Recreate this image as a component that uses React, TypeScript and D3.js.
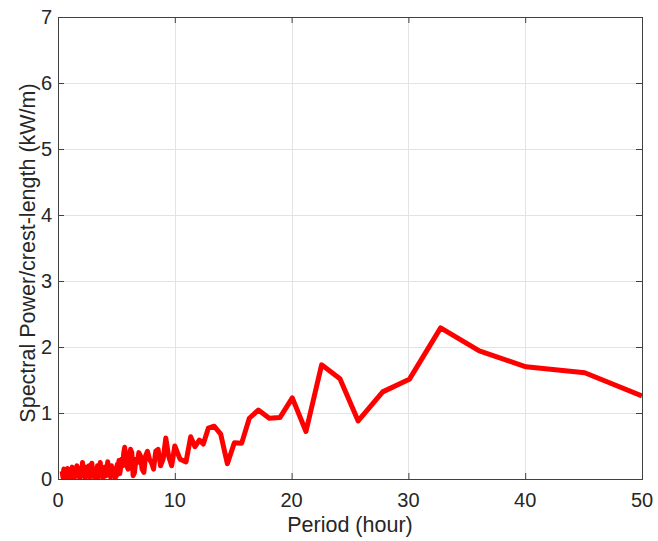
import React from "react";
import * as d3 from "d3";

// period (hour) and spectral power (kW/m)
const periods = [
  0.35, 0.42, 0.5, 0.58, 0.66, 0.74, 0.82, 0.9, 0.98, 1.06, 1.14, 1.22, 1.3, 1.38, 1.46, 1.54,
  1.62, 1.7, 1.78, 1.86, 1.94, 2.02, 2.1, 2.18, 2.26, 2.34, 2.42, 2.5, 2.58, 2.66, 2.74, 2.82,
  2.9, 2.98, 3.06, 3.14, 3.22, 3.3, 3.38, 3.46, 3.54, 3.62, 3.7, 3.78, 3.86, 3.94, 4.02, 4.1,
  4.18, 4.26, 4.34, 4.42, 4.5, 4.58, 4.66, 4.74, 4.82, 4.9, 5.0, 5.07, 5.14, 5.22, 5.29, 5.37,
  5.45, 5.54, 5.63, 5.71, 5.81, 5.9, 6.0, 6.1, 6.21, 6.32, 6.43, 6.55, 6.67, 6.79, 6.92, 7.06,
  7.2, 7.35, 7.5, 7.66, 7.83, 8.0, 8.18, 8.37, 8.57, 8.78, 9.0, 9.23, 9.47, 9.73,
  10.0, 10.45, 10.96, 11.36, 11.73, 12.1, 12.44, 12.87, 13.38, 13.93,
  14.5, 15.1, 15.72, 16.38, 17.15, 18.09, 19.0, 20.06, 21.23, 22.57,
  24.14, 25.7, 27.8, 30.08, 32.76, 36.07, 40.07, 45.1, 50.0,
];
const power = [
  0.12, 0.03, 0.15, 0.02, 0.1, 0.04, 0.16, 0.01, 0.08, 0.14, 0.03, 0.18, 0.06, 0.02, 0.12, 0.04,
  0.2, 0.05, 0.1, 0.02, 0.16, 0.08, 0.25, 0.04, 0.12, 0.02, 0.18, 0.1, 0.05, 0.2, 0.03, 0.14,
  0.24, 0.06, 0.12, 0.02, 0.15, 0.08, 0.2, 0.03, 0.1, 0.25, 0.06, 0.14, 0.02, 0.1, 0.18, 0.05,
  0.12, 0.26, 0.08, 0.15, 0.03, 0.2, 0.1, 0.05, 0.16, 0.02, 0.05, 0.22, 0.12, 0.28, 0.08, 0.18,
  0.3, 0.2, 0.4, 0.48, 0.35, 0.2, 0.15, 0.3, 0.45, 0.4, 0.05, 0.1, 0.3, 0.25, 0.4, 0.35,
  0.15, 0.1, 0.35, 0.42, 0.3, 0.25, 0.15, 0.42, 0.45, 0.2, 0.3, 0.62, 0.35, 0.2,
  0.5, 0.3, 0.26, 0.64, 0.49, 0.59, 0.53, 0.77, 0.8, 0.68,
  0.23, 0.55, 0.54, 0.92, 1.045, 0.92, 0.93, 1.23, 0.72, 1.73,
  1.52, 0.88, 1.32, 1.51, 2.29, 1.94, 1.7, 1.61, 1.26,
];
const xTicks = [0, 10, 20, 30, 40, 50];
const yTicks = [0, 1, 2, 3, 4, 5, 6, 7];

export default function App() {
  const width = 658;
  const height = 541;
  const margin = { top: 17, right: 16, bottom: 62, left: 58 };
  const innerW = width - margin.left - margin.right;
  const innerH = height - margin.top - margin.bottom;

  const x = d3.scaleLinear().domain([0, 50]).range([0, innerW]);
  const y = d3.scaleLinear().domain([0, 7]).range([innerH, 0]);

  const line = d3
    .line<number>()
    .x((d, i) => x(periods[i]))
    .y((d) => y(d));

  const font = "'Liberation Sans', Arial, Helvetica, sans-serif";
  const axisColor = "#404040";
  const textColor = "#262626";

  return (
    <svg
      width={width}
      height={height}
      style={{ position: "absolute", left: 0, top: 0, background: "#fff" }}
    >
      <defs>
        <clipPath id="plotClip">
          <rect x={0} y={0} width={innerW} height={innerH} />
        </clipPath>
      </defs>
      <g transform={`translate(${margin.left},${margin.top})`}>
        {/* grid */}
        {xTicks.slice(1, -1).map((t) => (
          <line key={"gx" + t} x1={Math.round(x(t)) + 0.5} x2={Math.round(x(t)) + 0.5} y1={0} y2={innerH} stroke="#e3e3e3" />
        ))}
        {yTicks.slice(1, -1).map((t) => (
          <line key={"gy" + t} x1={0} x2={innerW} y1={Math.round(y(t)) + 0.5} y2={Math.round(y(t)) + 0.5} stroke="#e3e3e3" />
        ))}

        <path
          d={line(power) || ""}
          fill="none"
          stroke="#ff0000"
          strokeWidth={5}
          strokeLinejoin="round"
          strokeLinecap="butt"
          clipPath="url(#plotClip)"
        />

        {/* box */}
        <rect x={0.5} y={0.5} width={innerW} height={innerH} fill="none" stroke={axisColor} strokeWidth={1} />

        {/* ticks */}
        {xTicks.map((t) => (
          <g key={"tx" + t}>
            <line x1={x(t) + 0.5} x2={x(t) + 0.5} y1={innerH} y2={innerH - 6} stroke={axisColor} />
            <line x1={x(t) + 0.5} x2={x(t) + 0.5} y1={0} y2={6} stroke={axisColor} />
            <text x={x(t)} y={innerH + 28} textAnchor="middle" fontFamily={font} fontSize={20} fill={textColor}>
              {t}
            </text>
          </g>
        ))}
        {yTicks.map((t) => (
          <g key={"ty" + t}>
            <line x1={0} x2={6} y1={y(t) + 0.5} y2={y(t) + 0.5} stroke={axisColor} />
            <line x1={innerW - 6} x2={innerW} y1={y(t) + 0.5} y2={y(t) + 0.5} stroke={axisColor} />
            <text x={-6} y={y(t) + 7} textAnchor="end" fontFamily={font} fontSize={20} fill={textColor}>
              {t}
            </text>
          </g>
        ))}

        <text x={innerW / 2} y={innerH + 53} textAnchor="middle" fontFamily={font} fontSize={21.5} fill={textColor}>
          Period (hour)
        </text>
        <text
          transform={`translate(${-23},${innerH / 2 + 5}) rotate(-90)`}
          textAnchor="middle"
          fontFamily={font}
          fontSize={21.5}
          fill={textColor}
        >
          Spectral Power/crest-length (kW/m)
        </text>
      </g>
    </svg>
  );
}
